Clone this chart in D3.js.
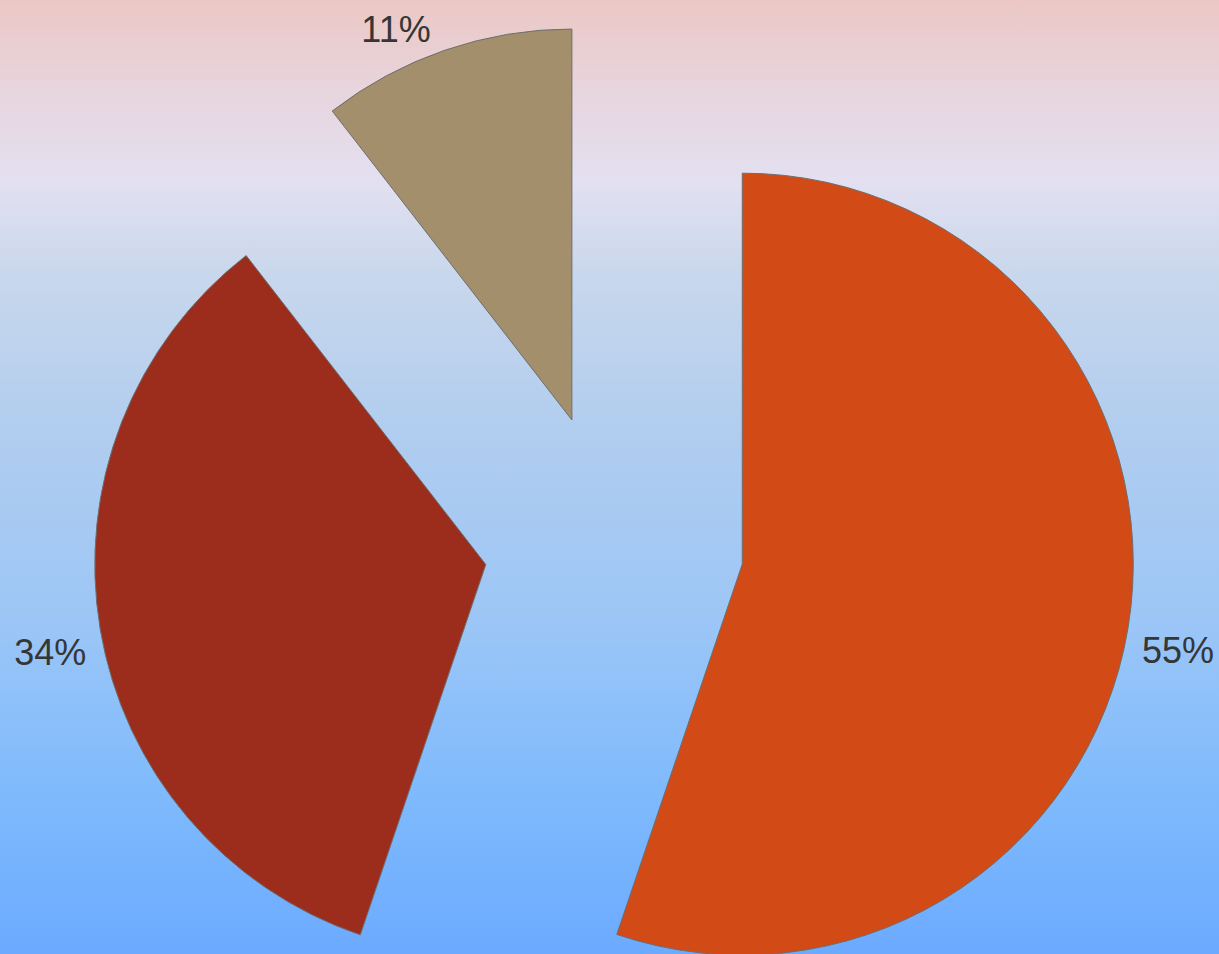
<!DOCTYPE html>
<html lang="en">
<head>
<meta charset="utf-8">
<title>Pie</title>
<style type="text/css">
body
{
   margin: 0;
   padding: 0;
   overflow: hidden;
}
.slice
{
   stroke: #6e6e6e;
   stroke-width: 1;
}
.label
{
   font-family: "Liberation Sans", Arial, sans-serif;
   font-size: 36px;
   fill: #363636;
}
</style>
<script type="text/javascript" src="https://cdnjs.cloudflare.com/ajax/libs/d3/7.8.5/d3.min.js"></script>
</head>

<body>

<script type="text/javascript">
var w = 1219;
var h = 954;

// slices, clockwise from 12 o'clock
var labels = ["55%", "34%", "11%"];
var values = [55.2, 34.3, 10.5];
var colors = ["#d24a16", "#9c2d1d", "#a38f6b"];

var cx = 614, cy = 543;   // un-exploded centre
var r = 391;
var explode = 130;
var labelR = 535;

var svg = d3.select("body")
            .append("svg")
            .attr("width", w)
            .attr("height", h);

// background gradient
var grad = svg.append("defs")
              .append("linearGradient")
              .attr("id", "bg")
              .attr("x1", 0).attr("y1", 0)
              .attr("x2", 0).attr("y2", 1);
var stops = [[0, "#ebc8c5"], [0.09, "#e8d4dc"], [0.19, "#e3e0f1"],
             [0.29, "#c8d7ec"], [0.45, "#b1cdef"], [0.65, "#9cc6f6"],
             [0.82, "#80bbfc"], [1, "#6caaff"]];
grad.selectAll("stop")
    .data(stops)
    .enter()
    .append("stop")
    .attr("offset", function(d){ return d[0]; })
    .attr("stop-color", function(d){ return d[1]; });

svg.append("rect")
   .attr("width", w)
   .attr("height", h)
   .attr("fill", "url(#bg)");

var pie = d3.pie().sort(null).value(function(d){ return d; });
var arcs = pie(values);
var arc = d3.arc().innerRadius(0).outerRadius(r);

function dir(d) {
   var a = (d.startAngle + d.endAngle) / 2;
   return [Math.sin(a), -Math.cos(a)];
}

svg.selectAll("path.slice")
   .data(arcs)
   .enter()
   .append("path")
   .attr("class", "slice")
   .attr("fill", function(d, i){ return colors[i]; })
   .attr("d", arc)
   .attr("transform", function(d){
       var u = dir(d);
       return "translate(" + (cx + explode * u[0]) + "," + (cy + explode * u[1]) + ")";
   });

// labels just outside the pie, along each slice's bisector
svg.selectAll("text.label")
   .data(arcs)
   .enter()
   .append("text")
   .attr("class", "label")
   .attr("x", function(d){
       var u = dir(d);
       var x = cx + labelR * u[0];
       return u[1] > 0 ? x : x - 10;
   })
   .attr("y", function(d){
       var u = dir(d);
       var y = cy + labelR * u[1];
       return u[1] > 0 ? y + 33 : y + 5;
   })
   .attr("text-anchor", function(d){ return dir(d)[0] > 0 ? "start" : "end"; })
   .text(function(d, i){ return labels[i]; });
</script>
</body>
</html>
